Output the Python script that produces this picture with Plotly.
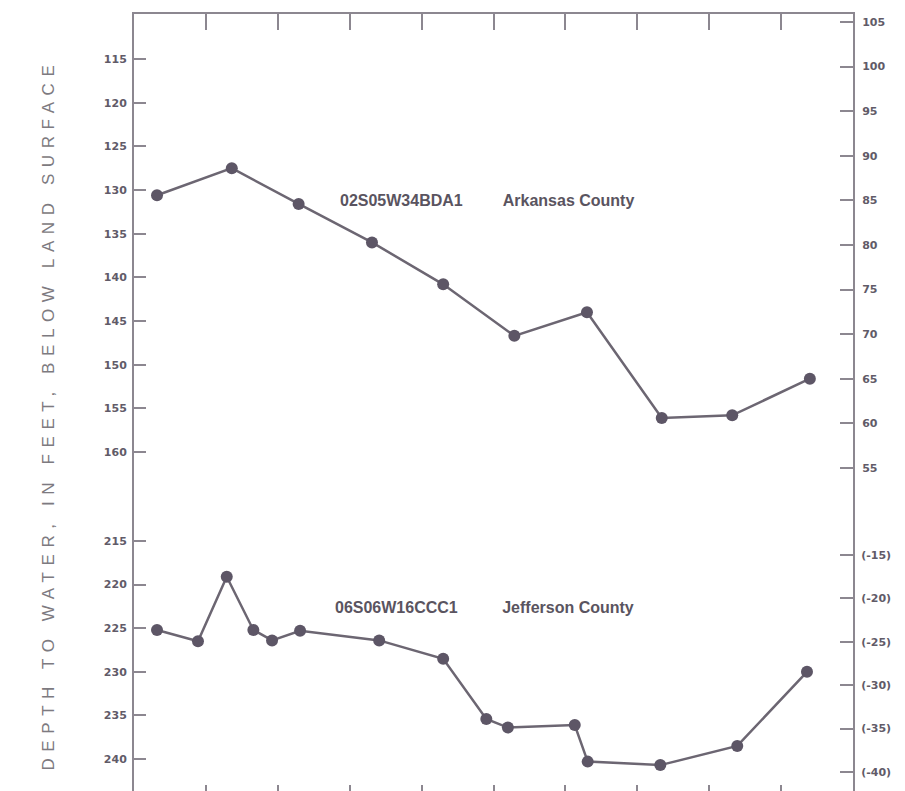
import plotly.graph_objects as go

# ---- data ----
# time position in units of the x-axis tick interval (10 intervals, unlabeled)
upper_x = [0.32, 1.36, 2.29, 3.31, 4.30, 5.29, 6.30, 7.34, 8.32, 9.40]
upper_depth = [130.6, 127.5, 131.6, 136.0, 140.8, 146.7, 144.0, 156.1, 155.8, 151.6]

lower_x = [0.32, 0.89, 1.29, 1.66, 1.92, 2.31, 3.41, 4.30, 4.90, 5.20, 6.13, 6.31, 7.32, 8.39, 9.36]
lower_depth = [225.2, 226.5, 219.1, 225.2, 226.4, 225.3, 226.4, 228.5, 235.4, 236.4,
               236.1, 240.3, 240.7, 238.5, 230.0]

upper_left_ticks = [115, 120, 125, 130, 135, 140, 145, 150, 155, 160]
lower_left_ticks = [215, 220, 225, 230, 235, 240]
upper_right_ticks = [105, 100, 95, 90, 85, 80, 75, 70, 65, 60, 55]
lower_right_ticks = [-15, -20, -25, -30, -35, -40]
lower_right_text = ["(-15)", "(-20)", "(-25)", "(-30)", "(-35)", "(-40)"]
x_ticks = [0, 1, 2, 3, 4, 5, 6, 7, 8, 9, 10]

upper_label = "02S05W34BDA1" + "\u00a0" * 9 + "Arkansas County"
lower_label = "06S06W16CCC1" + "\u00a0" * 10 + "Jefferson County"
y_title = "DEPTH TO WATER, IN FEET, BELOW LAND SURFACE"

# ---- styles ----
LINE_C = "#6c6672"
MARK_C = "#5d5666"
AXIS_C = "#8c8790"
TICKFONT = dict(family="DejaVu Sans", size=11, color="#615b68", weight="bold")
SPLIT = 0.37838

fig = go.Figure()
fig.add_trace(go.Scatter(x=upper_x, y=upper_depth, mode="lines+markers",
                         line=dict(color=LINE_C, width=2.5),
                         marker=dict(color=MARK_C, size=12),
                         xaxis="x", yaxis="y", showlegend=False))
fig.add_trace(go.Scatter(x=lower_x, y=lower_depth, mode="lines+markers",
                         line=dict(color=LINE_C, width=2.5),
                         marker=dict(color=MARK_C, size=12),
                         xaxis="x2", yaxis="y2", showlegend=False))
# empty traces so the right-hand altitude axes get drawn
fig.add_trace(go.Scatter(x=[], y=[], xaxis="x", yaxis="y3", showlegend=False, hoverinfo="skip"))
fig.add_trace(go.Scatter(x=[], y=[], xaxis="x2", yaxis="y4", showlegend=False, hoverinfo="skip"))

common_y = dict(ticks="inside", showline=True, linecolor=AXIS_C, linewidth=2,
                tickcolor=AXIS_C, tickwidth=2, showgrid=False, zeroline=False,
                tickfont=TICKFONT)

fig.update_layout(
    width=905, height=791,
    margin=dict(l=134, r=52, t=14, b=0),
    paper_bgcolor="white", plot_bgcolor="white",
    xaxis=dict(range=[0, 10], anchor="y", side="top", tickvals=x_ticks,
               ticks="inside", ticklen=16, tickwidth=2, tickcolor=AXIS_C,
               showticklabels=False, showline=True, linecolor=AXIS_C, linewidth=2,
               showgrid=False, zeroline=False),
    xaxis2=dict(range=[0, 10], matches="x", anchor="y2", side="bottom", tickvals=x_ticks,
                ticks="inside", ticklen=6, tickwidth=2, tickcolor=AXIS_C,
                showticklabels=False, showline=False, showgrid=False, zeroline=False),
    yaxis=dict(domain=[SPLIT, 1], range=[165.153, 109.847], tickvals=upper_left_ticks,
               ticklen=12, anchor="x", ticklabelstandoff=3, **common_y),
    yaxis2=dict(domain=[0, SPLIT], range=[243.67, 209.954], tickvals=lower_left_ticks,
                ticklen=12, anchor="x2", ticklabelstandoff=3, **common_y),
    yaxis3=dict(overlaying="y", side="right", anchor="x", range=[51.749, 105.897],
                tickvals=upper_right_ticks, ticklen=13, ticklabelstandoff=5, **common_y),
    yaxis4=dict(overlaying="y2", side="right", anchor="x2", range=[-42.189, -8.318],
                tickvals=lower_right_ticks, ticktext=lower_right_text, ticklen=13,
                ticklabelstandoff=4, **common_y),
    annotations=[
        dict(text=upper_label, x=2.837, y=131.15, xref="x", yref="y",
             xanchor="left", yanchor="middle", showarrow=False,
             font=dict(family="Liberation Sans", size=16, color="#5a5460", weight="bold")),
        dict(text=lower_label, x=2.77, y=222.57, xref="x2", yref="y2",
             xanchor="left", yanchor="middle", showarrow=False,
             font=dict(family="Liberation Sans", size=16, color="#5a5460", weight="bold")),
        dict(text=y_title, x=-0.12, y=0.4839, xref="paper", yref="paper",
             xanchor="center", yanchor="middle", textangle=-90, showarrow=False,
             font=dict(family="Liberation Sans", size=17, color="#7d7a80")),
    ],
)

post = """
document.body.style.margin = '0';
var g = document.querySelectorAll('.annotation[data-index="2"] text');
g.forEach(function(t){ t.style.letterSpacing = '6.6px'; });
"""
fig.write_html("out.html", post_script=post, config={"displayModeBar": False})
